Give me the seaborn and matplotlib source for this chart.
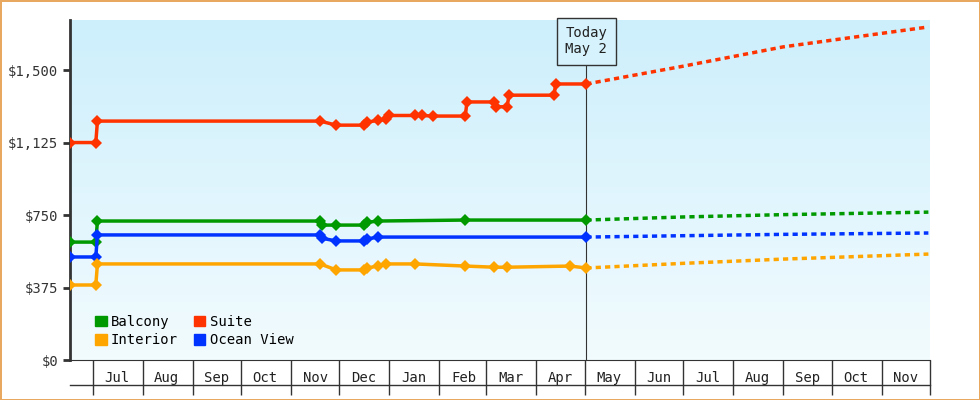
import matplotlib
matplotlib.use("Agg")
import matplotlib.pyplot as plt
import matplotlib.dates as mdates
from matplotlib.lines import Line2D
from matplotlib.patches import Patch
from matplotlib.colors import LinearSegmentedColormap
import numpy as np
import pandas as pd
import seaborn as sns

plt.rcParams["font.family"] = "DejaVu Sans Mono"

suite_dates = ["2023-06-17","2023-07-03","2023-07-04","2023-11-19","2023-11-29","2023-12-16","2023-12-18","2023-12-25","2023-12-30","2024-01-01","2024-01-17","2024-01-21","2024-01-28","2024-02-17","2024-02-18","2024-03-06","2024-03-07","2024-03-14","2024-03-15","2024-04-12","2024-04-13","2024-05-02"]
suite_vals = [1125,1125,1236,1236,1215,1215,1230,1240,1245,1265,1265,1265,1262,1262,1335,1335,1310,1310,1370,1370,1428,1428]
balcony_dates = ["2023-06-17","2023-07-03","2023-07-04","2023-11-19","2023-11-20","2023-11-29","2023-12-16","2023-12-18","2023-12-25","2024-02-17","2024-05-02"]
balcony_vals = [610,610,719,719,698,698,698,712,719,724,724]
ocean_dates = ["2023-06-17","2023-07-03","2023-07-04","2023-11-19","2023-11-20","2023-11-29","2023-12-16","2023-12-18","2023-12-25","2024-05-02"]
ocean_vals = [533,533,647,647,630,616,616,626,636,636]
interior_dates = ["2023-06-17","2023-07-03","2023-07-04","2023-11-19","2023-11-29","2023-12-16","2023-12-18","2023-12-25","2023-12-30","2024-01-17","2024-02-17","2024-03-06","2024-03-14","2024-04-22","2024-05-02"]
interior_vals = [388,388,497,497,466,466,476,486,497,497,486,480,480,486,476]
forecast_dates = ["2024-05-02","2024-07-01","2024-09-01","2024-11-30"]
forecast = {
    "Suite": [1428,1520,1620,1723],
    "Balcony": [724,740,752,765],
    "Ocean View": [636,643,650,657],
    "Interior": [476,500,522,548],
}
colors = {"Balcony":"#009900","Suite":"#ff3300","Interior":"#ffa500","Ocean View":"#0033ff"}
months = ["Jul","Aug","Sep","Oct","Nov","Dec","Jan","Feb","Mar","Apr","May","Jun","Jul","Aug","Sep","Oct","Nov"]
yticks = [0,375,750,1125,1500]

hist = pd.concat([
    pd.DataFrame({"date":pd.to_datetime(d),"price":v,"cabin":n})
    for n,d,v in [("Suite",suite_dates,suite_vals),("Balcony",balcony_dates,balcony_vals),
                  ("Ocean View",ocean_dates,ocean_vals),("Interior",interior_dates,interior_vals)]
])
fc = pd.concat([pd.DataFrame({"date":pd.to_datetime(forecast_dates),"price":v,"cabin":n}) for n,v in forecast.items()])

fig = plt.figure(figsize=(9.8,4), dpi=100)
fig.patch.set_edgecolor("#e8a860"); fig.patch.set_linewidth(2)
ax = fig.add_axes([70/980, 40/400, 860/980, 340/400])
x0 = mdates.date2num(pd.Timestamp("2023-06-17")); x1 = mdates.date2num(pd.Timestamp("2024-12-01"))
ymax = 1759
grad = np.linspace(0,1,100).reshape(-1,1)
cm = LinearSegmentedColormap.from_list("g", ["#cdeffc", "#f2fbfe"])
ax.imshow(grad, extent=[x0,x1,0,ymax], aspect="auto", cmap=cm, zorder=0, origin="upper")

sns.lineplot(data=fc, x="date", y="price", hue="cabin", palette=colors, ax=ax,
             linestyle=(0,(1.5,1.2)), lw=2.5, legend=False, sort=False, zorder=2)
sns.lineplot(data=hist, x="date", y="price", hue="cabin", palette=colors, ax=ax,
             marker="D", markersize=6, markeredgewidth=0, lw=2.5, legend=False, sort=False, estimator=None, zorder=3)

ax.set_xlim(x0,x1); ax.set_ylim(0,ymax)
ax.set_xlabel(""); ax.set_ylabel("")
for s in ["top","right"]: ax.spines[s].set_visible(False)
ax.spines["left"].set_linewidth(2); ax.spines["left"].set_color("#333333")
ax.spines["bottom"].set_color("#333333")
ax.set_yticks(yticks)
ax.set_yticklabels([f"${v:,}" for v in yticks], fontsize=10, color="#333333")
ax.tick_params(axis="y", length=5, width=2, color="#333333")
mstarts = pd.date_range("2023-07-01","2024-12-01",freq="MS")
ax.set_xticks(mdates.date2num(mstarts))
ax.xaxis.set_major_formatter(matplotlib.ticker.NullFormatter())
ax.tick_params(axis="x", which="major", length=25, width=1, color="#333333", direction="out")
mids = mdates.date2num(mstarts[:-1]) + 15
ax.set_xticks(mids, minor=True)
ax.set_xticklabels(months, minor=True, fontsize=10, color="#222222")
ax.tick_params(axis="x", which="minor", length=0, pad=8)
ax.add_line(Line2D([0,1],[-25/340,-25/340], transform=ax.transAxes, color="#333333", lw=1, clip_on=False))

today = mdates.date2num(pd.Timestamp("2024-05-02"))
ax.axvline(today, color="#333333", lw=0.8, zorder=1)
ax.text(today, 1650, "Today\nMay 2", ha="center", va="center", fontsize=10, color="#222222",
        bbox=dict(boxstyle="square,pad=0.6", fc="#d6f2fc", ec="#333333", lw=1), zorder=4)

handles = [Patch(color=colors[k]) for k in ["Balcony","Interior","Suite","Ocean View"]]
ax.legend(handles, ["Balcony","Interior","Suite","Ocean View"], ncol=2, loc="lower left",
          bbox_to_anchor=(0.015,0.0), frameon=False, fontsize=10, handlelength=0.8, handleheight=0.8,
          handletextpad=0.3, columnspacing=1.2, labelspacing=0.35)
fig.savefig("out.png", dpi=100)
